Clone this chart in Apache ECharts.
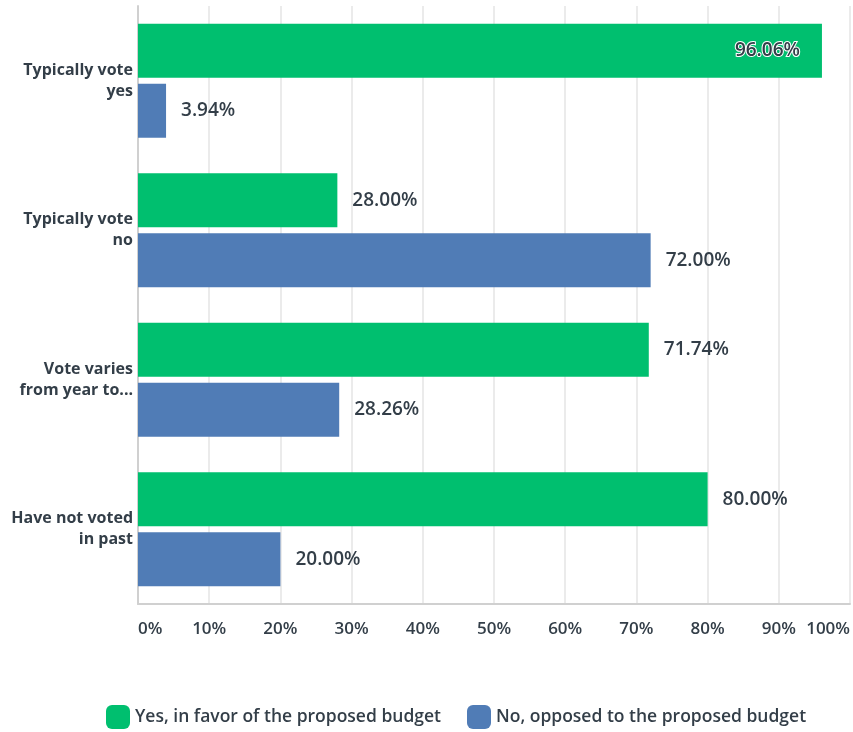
<!DOCTYPE html>
<html><head><meta charset="utf-8">
<script src="https://cdn.jsdelivr.net/npm/echarts@6/dist/echarts.min.js"></script>
<style>html,body{margin:0;padding:0;background:#fff}#c{width:853px;height:732px}</style>
</head><body><div id="c"></div>
<script>
const categories = ['Typically vote\nyes', 'Typically vote\nno', 'Vote varies\nfrom year to...', 'Have not voted\nin past'];
const yesValues = [96.06, 28.00, 71.74, 80.00];
const noValues = [3.94, 72.00, 28.26, 20.00];
const seriesNames = ['Yes, in favor of the proposed budget', 'No, opposed to the proposed budget'];
const xTicks = [0, 10, 20, 30, 40, 50, 60, 70, 80, 90, 100];

const TXT = '#333e48';
const FONT = 'Open Sans';
const chart = echarts.init(document.getElementById('c'));
function lbl(v) {
  return {
    show: true,
    position: v > 90 ? 'insideRight' : 'right',
    distance: v > 90 ? 22 : 15,
    formatter: p => p.value.toFixed(2) + '%',
    color: TXT,
    fontFamily: FONT,
    fontWeight: 600,
    fontSize: 19,
    textBorderColor: v > 90 ? '#fff' : 'transparent',
    textBorderWidth: v > 90 ? 2 : 0
  };
}
chart.setOption({
  animation: false,
  textStyle: { fontFamily: FONT },
  grid: { left: 138, right: 2, top: 6, bottom: 128, containLabel: false },
  legend: {
    top: 705, left: 106, padding: 0,
    itemWidth: 24, itemHeight: 24, itemGap: 26,
    icon: 'roundRect',
    textStyle: { color: TXT, fontSize: 17.5, fontWeight: 600, fontFamily: FONT },
    data: seriesNames
  },
  xAxis: {
    type: 'value', min: 0, max: 100, interval: 10,
    axisLine: { show: true, lineStyle: { color: '#d0d0d0', width: 2 } },
    axisTick: { show: false },
    splitLine: { show: true, lineStyle: { color: '#ebebeb', width: 2 } },
    axisLabel: {
      formatter: v => xTicks.includes(v) ? v + '%' : '',
      color: TXT, fontWeight: 600, fontSize: 17, margin: 17,
      alignMinLabel: 'left', alignMaxLabel: 'right'
    }
  },
  yAxis: {
    type: 'category', data: categories, inverse: true,
    axisLine: { show: true, lineStyle: { color: '#d0d0d0', width: 2 } },
    axisTick: { show: false },
    axisLabel: { color: TXT, fontWeight: 'bold', fontSize: 16, margin: 5, lineHeight: 21, align: 'right' }
  },
  series: [
    { name: seriesNames[0], type: 'bar', barWidth: 54, barGap: '11%', itemStyle: { color: '#00bf6f' },
      data: yesValues.map(v => ({ value: v, label: lbl(v) })) },
    { name: seriesNames[1], type: 'bar', barWidth: 54, itemStyle: { color: '#507cb6' },
      data: noValues.map(v => ({ value: v, label: lbl(v) })) }
  ]
});
</script></body></html>
